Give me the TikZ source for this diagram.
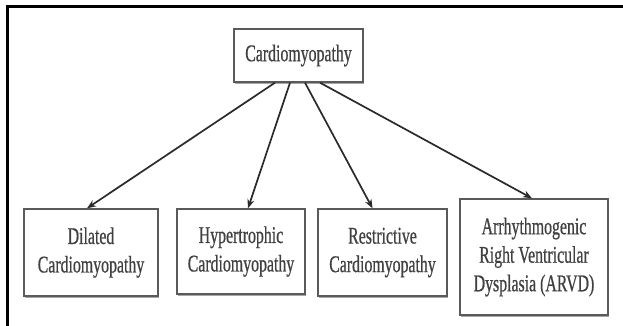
\documentclass[tikz,border=0pt]{standalone}
\usepackage{fontspec}
\setmainfont{Liberation Serif}[FakeStretch=0.66, FakeBold=0.6]
\usetikzlibrary{arrows.meta,shadows}
\definecolor{txt}{HTML}{404040}
\definecolor{boxc}{HTML}{5A5A5A}
\definecolor{arrc}{HTML}{2A2A2A}
\tikzset{
  catbox/.style={draw=boxc, line width=1.4pt, fill=white, align=center, text=txt,
    font=\fontsize{24}{28.5}\selectfont, inner sep=0pt,
    drop shadow={shadow xshift=1.2pt, shadow yshift=-1.8pt, fill=gray!70, opacity=1}},
  arr/.style={draw=arrc, line width=1.7pt, -{Stealth[length=9pt,width=7pt]}},
  frame/.style={draw=black, line width=3pt}
}
\begin{document}
\begin{tikzpicture}[x=1pt,y=-1pt]
\useasboundingbox (0,0) rectangle (623,326);
\fill[white] (0,0) rectangle (623,326);
\draw[frame] (7,330) -- (7,7) -- (630,7);

\node[catbox, minimum width=129pt, minimum height=53pt] (top) at (298.5,55.5) {Cardiomyopathy};
\node[catbox, minimum width=134pt, minimum height=87pt] (dil) at (91,252.5) {Dilated\\Cardiomyopathy};
\node[catbox, minimum width=128pt, minimum height=85pt] (hyp) at (241,251.5) {Hypertrophic\\Cardiomyopathy};
\node[catbox, minimum width=129pt, minimum height=87pt] (res) at (382.5,252.5) {Restrictive\\Cardiomyopathy};
\node[catbox, minimum width=148pt, minimum height=116pt] (arvd) at (534,257) {Arrhythmogenic\\Right Ventricular\\Dysplasia (ARVD)};

\draw[arr] ([xshift=-23.5pt]top.south) -- ([xshift=-4pt]dil.north);
\draw[arr] ([xshift=-8.5pt]top.south) -- ([xshift=7pt]hyp.north);
\draw[arr] ([xshift=6.5pt]top.south) -- ([xshift=-10pt]res.north);
\draw[arr] ([xshift=21.5pt]top.south) -- ([xshift=-2pt]arvd.north);
\end{tikzpicture}
\end{document}
